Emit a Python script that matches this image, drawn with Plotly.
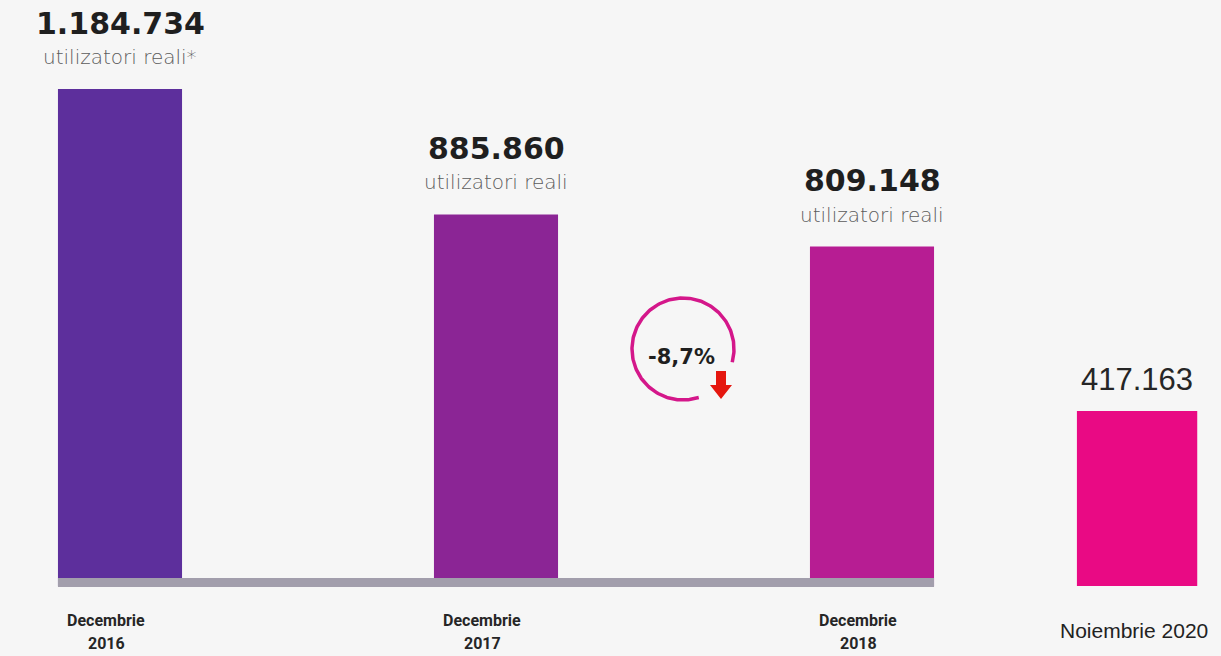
import numpy as np
import plotly.graph_objects as go

# ---------------- data ----------------
categories = ["Decembrie 2016", "Decembrie 2017", "Decembrie 2018", "Noiembrie 2020"]
users = [1184734, 885860, 809148, 417163]
value_labels = ["1.184.734", "885.860", "809.148", "417.163"]
subtitles = ["utilizatori reali*", "utilizatori reali", "utilizatori reali", ""]
month_labels = ["Decembrie", "Decembrie", "Decembrie", "Noiembrie 2020"]
year_labels = ["2016", "2017", "2018", ""]

# ---------------- layout constants ----------------
W, H = 1221, 656
x_pos = [0, 1, 2, 2.705]
bar_width = [0.33, 0.33, 0.33, 0.32]
colors = ["#5d2f9c", "#8b2595", "#b71d93", "#e90a84"]
PX_X = 376.0          # pixels per x unit
X0_PX = 120.0         # pixel of x = 0
ZERO_PX = 586.0       # pixel of y = 0
TOP_PX = 89.0         # pixel of the tallest bar top
k = max(users) / (ZERO_PX - TOP_PX)
x_range = [-X0_PX / PX_X, (W - X0_PX) / PX_X]
y_range = [-(H - ZERO_PX) * k, ZERO_PX * k]

fig = go.Figure()
fig.add_trace(go.Bar(
    x=x_pos, y=users, width=bar_width,
    marker=dict(color=colors, line=dict(width=0)),
    hoverinfo="skip", showlegend=False,
))

annotations = []
num_font = dict(family="DejaVu Sans", size=30, color="#1f1f1f")
sub_font = dict(family="DejaVu Sans", size=20, color="#5c5c5c", weight=300)
lab_font = dict(family="Roboto", size=16, color="#262626")
for i in range(3):
    annotations.append(dict(x=x_pos[i], y=users[i], xref="x", yref="y",
                            text="<b>" + value_labels[i] + "</b>", showarrow=False,
                            yanchor="middle", yshift=66, font=num_font))
    annotations.append(dict(x=x_pos[i], y=users[i], xref="x", yref="y",
                            text=subtitles[i], showarrow=False,
                            yanchor="middle", yshift=32, font=sub_font))
    annotations.append(dict(x=x_pos[i], y=0, xref="x", yref="y",
                            text="<b>" + month_labels[i] + "</b>", showarrow=False,
                            yanchor="middle", yshift=-34, xshift=-14, font=lab_font))
    annotations.append(dict(x=x_pos[i], y=0, xref="x", yref="y",
                            text="<b>" + year_labels[i] + "</b>", showarrow=False,
                            yanchor="middle", yshift=-57, xshift=-14, font=lab_font))

annotations.append(dict(x=x_pos[3], y=users[3], xref="x", yref="y",
                        text=value_labels[3], showarrow=False,
                        yanchor="middle", yshift=32,
                        font=dict(family="Liberation Sans", size=31, color="#262626")))
annotations.append(dict(x=x_pos[3], y=0, xref="x", yref="y",
                        text=month_labels[3], showarrow=False,
                        yanchor="middle", yshift=-44, xshift=-3,
                        font=dict(family="Liberation Sans", size=21, color="#222222")))

# change between 2017 and 2018
pct = (users[2] - users[1]) / users[1] * 100
change_text = f"{pct:.1f}%".replace(".", ",")

# circle decoration (pixel overlay axes)
cx, cy, r = 683, 349, 51
theta = np.radians(np.linspace(-15, 288, 200))
arc_x = cx + r * np.cos(theta)
arc_y = cy - r * np.sin(theta)
fig.add_trace(go.Scatter(x=arc_x, y=arc_y, xaxis="x2", yaxis="y2", mode="lines",
                         line=dict(color="#d4178a", width=3.5),
                         hoverinfo="skip", showlegend=False))
annotations.append(dict(x=cx - 2, y=cy + 8, xref="x2", yref="y2",
                        text="<b>" + change_text + "</b>", showarrow=False,
                        font=dict(family="DejaVu Sans", size=21, color="#1f1f1f")))

shapes = [
    # baseline
    dict(type="rect", xref="x", yref="y", layer="above",
         x0=x_pos[0] - bar_width[0] / 2, x1=x_pos[2] + bar_width[2] / 2,
         ysizemode="pixel", yanchor=0, y0=-1, y1=8,
         fillcolor="#a29eac", line=dict(width=0)),
    # red arrow
    dict(type="path", xref="x2", yref="y2",
         path="M 716 371 L 726 371 L 726 385 L 732 385 L 721 399 L 710 385 L 716 385 Z",
         fillcolor="#e5170f", line=dict(width=0)),
]

fig.update_layout(
    width=W, height=H, autosize=False,
    margin=dict(l=0, r=0, t=0, b=0, pad=0),
    paper_bgcolor="#f6f6f6", plot_bgcolor="#f6f6f6",
    xaxis=dict(range=x_range, visible=False, fixedrange=True),
    yaxis=dict(range=y_range, visible=False, fixedrange=True),
    xaxis2=dict(range=[0, W], overlaying="x", visible=False, fixedrange=True),
    yaxis2=dict(range=[H, 0], overlaying="y", visible=False, fixedrange=True),
    annotations=annotations, shapes=shapes,
    showlegend=False,
)

fig.write_html("out.html", config={"displayModeBar": False},
               post_script="document.body.style.margin='0';document.body.style.overflow='hidden';")
